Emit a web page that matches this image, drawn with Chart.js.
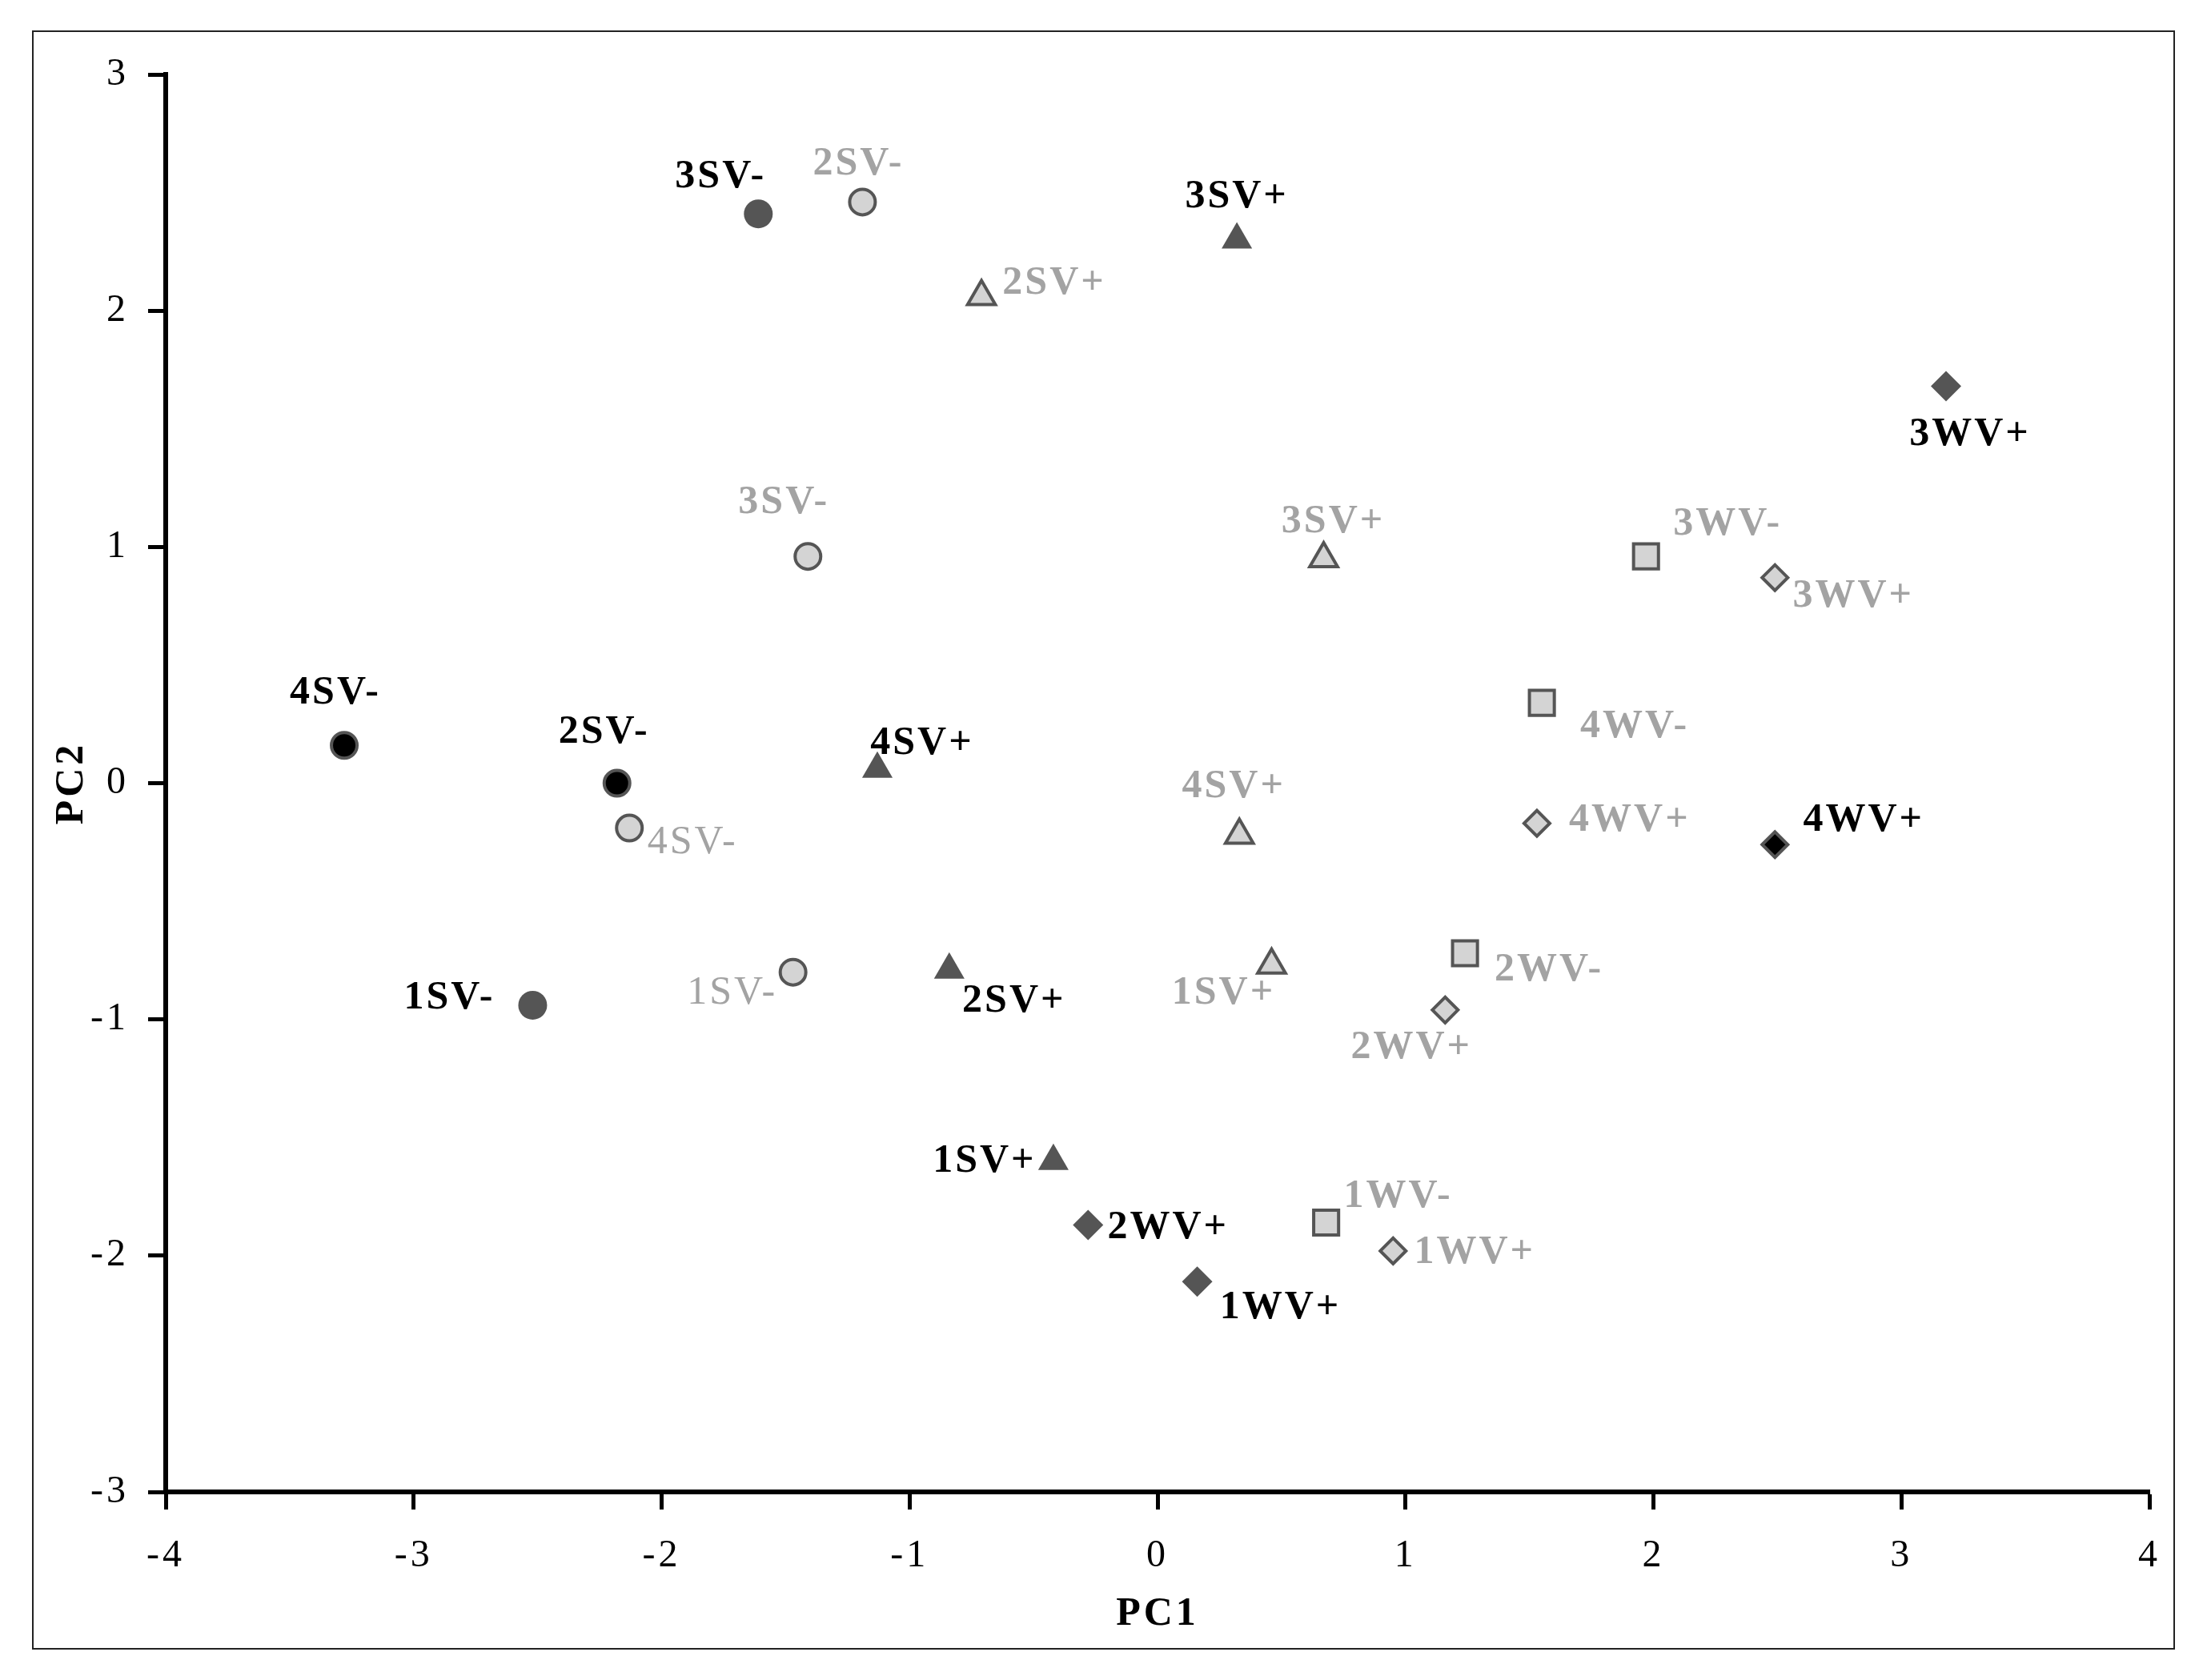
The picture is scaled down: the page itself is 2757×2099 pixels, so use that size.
<!DOCTYPE html>
<html>
<head>
<meta charset="utf-8">
<script src="https://cdn.jsdelivr.net/npm/chart.js@4.4.1/dist/chart.umd.min.js"></script>
<style>
  html, body { margin: 0; padding: 0; background: #fff; }
</style>
</head>
<body>
<canvas id="chart" width="2757" height="2099"></canvas>
<script>
// PCA scores, one group per marker style
const darkCircleLabels = ["3SV-", "1SV-"];
const darkCircleX = [-1.61, -2.52];
const darkCircleY = [2.41, -0.94];

const blackCircleLabels = ["4SV-", "2SV-"];
const blackCircleX = [-3.28, -2.18];
const blackCircleY = [0.16, 0.0];

const lightCircleLabels = ["2SV-", "3SV-", "4SV-", "1SV-"];
const lightCircleX = [-1.19, -1.41, -2.13, -1.47];
const lightCircleY = [2.46, 0.96, -0.19, -0.8];

const darkTriangleLabels = ["3SV+", "4SV+", "2SV+", "1SV+"];
const darkTriangleX = [0.32, -1.13, -0.84, -0.42];
const darkTriangleY = [2.3, 0.06, -0.79, -1.6];

const lightTriangleLabels = ["2SV+", "3SV+", "4SV+", "1SV+"];
const lightTriangleX = [-0.71, 0.67, 0.33, 0.46];
const lightTriangleY = [2.06, 0.95, -0.22, -0.77];

const squareLabels = ["3WV-", "4WV-", "2WV-", "1WV-"];
const squareX = [1.97, 1.55, 1.24, 0.68];
const squareY = [0.96, 0.34, -0.72, -1.86];

const lightDiamondLabels = ["3WV+", "4WV+", "2WV+", "1WV+"];
const lightDiamondX = [2.49, 1.53, 1.16, 0.95];
const lightDiamondY = [0.87, -0.17, -0.96, -1.98];

const darkDiamondLabels = ["3WV+", "2WV+", "1WV+"];
const darkDiamondX = [3.18, -0.28, 0.16];
const darkDiamondY = [1.68, -1.87, -2.11];

const blackDiamondLabels = ["4WV+"];
const blackDiamondX = [2.49];
const blackDiamondY = [-0.26];

const xTicks = [-4, -3, -2, -1, 0, 1, 2, 3, 4];
const yTicks = [-3, -2, -1, 0, 1, 2, 3];

// colours
const DARK = "#555555";
const LIGHT = "#d4d4d4";
const GREY_TEXT = "#a3a3a3";
const SERIF = "'Liberation Serif'";

function pts(xs, ys) {
  return xs.map((x, i) => ({ x: x, y: ys[i] }));
}

// label placement next to each marker (pixels)
const labelOffsets = [
  [[-47, -46], [-104, -9]],
  [[-11, -65], [-16, -63]],
  [[-5, -47], [-30, -67], [79, 18], [-76, 26]],
  [[0, -54], [56, -32], [81, 39], [-86, 0]],
  [[91, -16], [12, -46], [-7, -60], [-60, 35]],
  [[102, -40], [116, 30], [105, 21], [90, -32]],
  [[98, 23], [116, -4], [-42, 47], [102, 2]],
  [[30, 60], [100, 4], [104, 33]],
  [[111, -30]],
];

const datasets = [
  { names: darkCircleLabels, data: pts(darkCircleX, darkCircleY), pointStyle: "circle", pointRadius: 18,
    backgroundColor: DARK, borderColor: DARK, borderWidth: 0, textColor: "#000" },
  { names: blackCircleLabels, data: pts(blackCircleX, blackCircleY), pointStyle: "circle", pointRadius: 16,
    backgroundColor: "#000", borderColor: DARK, borderWidth: 4, textColor: "#000" },
  { names: lightCircleLabels, data: pts(lightCircleX, lightCircleY), pointStyle: "circle", pointRadius: 16,
    backgroundColor: LIGHT, borderColor: DARK, borderWidth: 4, textColor: GREY_TEXT, thin: [2, 3] },
  { names: darkTriangleLabels, data: pts(darkTriangleX, darkTriangleY), pointStyle: "triangle", pointRadius: 22,
    backgroundColor: DARK, borderColor: DARK, borderWidth: 0, textColor: "#000" },
  { names: lightTriangleLabels, data: pts(lightTriangleX, lightTriangleY), pointStyle: "triangle", pointRadius: 20,
    backgroundColor: LIGHT, borderColor: DARK, borderWidth: 4, textColor: GREY_TEXT },
  { names: squareLabels, data: pts(squareX, squareY), pointStyle: "rect", pointRadius: 22,
    backgroundColor: LIGHT, borderColor: DARK, borderWidth: 4, textColor: GREY_TEXT },
  { names: lightDiamondLabels, data: pts(lightDiamondX, lightDiamondY), pointStyle: "rectRot", pointRadius: 16,
    backgroundColor: LIGHT, borderColor: DARK, borderWidth: 4, textColor: GREY_TEXT },
  { names: darkDiamondLabels, data: pts(darkDiamondX, darkDiamondY), pointStyle: "rectRot", pointRadius: 19,
    backgroundColor: DARK, borderColor: DARK, borderWidth: 0, textColor: "#000" },
  { names: blackDiamondLabels, data: pts(blackDiamondX, blackDiamondY), pointStyle: "rectRot", pointRadius: 16,
    backgroundColor: "#000", borderColor: DARK, borderWidth: 4, textColor: "#000" },
];

const frame = {
  id: "frame",
  beforeDraw(chart) {
    const ctx = chart.ctx;
    ctx.save();
    ctx.fillStyle = "#fff";
    ctx.fillRect(0, 0, chart.width, chart.height);
    ctx.strokeStyle = "#222";
    ctx.lineWidth = 2;
    ctx.strokeRect(41, 39, 2675, 2021);
    ctx.restore();
    ctx.letterSpacing = "4px";
  },
  afterDraw(chart) {
    chart.ctx.letterSpacing = "0px";
  },
};

const pointLabels = {
  id: "pointLabels",
  afterDatasetsDraw(chart) {
    const ctx = chart.ctx;
    ctx.save();
    ctx.letterSpacing = "3px";
    ctx.textAlign = "center";
    ctx.textBaseline = "middle";
    chart.data.datasets.forEach((ds, i) => {
      chart.getDatasetMeta(i).data.forEach((el, j) => {
        const off = labelOffsets[i][j];
        const bold = !(ds.thin && ds.thin.includes(j));
        ctx.font = (bold ? "bold " : "") + "50px " + SERIF;
        ctx.fillStyle = ds.textColor;
        ctx.fillText(ds.names[j], el.x + off[0], el.y + off[1]);
      });
    });
    ctx.restore();
  },
};

function draw() {
  new Chart(document.getElementById("chart"), {
    type: "scatter",
    data: { datasets: datasets },
    options: {
      responsive: false,
      animation: false,
      events: [],
      layout: { padding: { left: 0, right: 72, top: 93, bottom: 0 } },
      plugins: { legend: { display: false }, tooltip: { enabled: false } },
      scales: {
        x: {
          type: "linear",
          min: -4,
          max: 4,
          afterBuildTicks(scale) { scale.ticks = xTicks.map(v => ({ value: v })); },
          afterFit(scale) { scale.height = 235; },
          border: { display: true, color: "#000", width: 6 },
          grid: { drawOnChartArea: false, drawTicks: true, tickLength: 22, tickWidth: 5, tickColor: "#000" },
          ticks: { color: "#000", padding: 30, font: { family: SERIF, size: 48 } },
          title: { display: true, text: "PC1", color: "#000", padding: { top: 0, bottom: 52 },
            font: { family: SERIF, size: 50, weight: "bold" } },
        },
        y: {
          type: "linear",
          min: -3,
          max: 3,
          afterBuildTicks(scale) { scale.ticks = yTicks.map(v => ({ value: v })); },
          afterFit(scale) { scale.width = 207; },
          border: { display: true, color: "#000", width: 6 },
          grid: { drawOnChartArea: false, drawTicks: true, tickLength: 22, tickWidth: 5, tickColor: "#000" },
          ticks: { color: "#000", padding: 24, font: { family: SERIF, size: 48 } },
          title: { display: true, text: "PC2", color: "#000", padding: { top: 60, bottom: 0 },
            font: { family: SERIF, size: 50, weight: "bold" } },
        },
      },
    },
    plugins: [frame, pointLabels],
  });
}

Promise.all([
  document.fonts.load("48px 'Liberation Serif'"),
  document.fonts.load("bold 50px 'Liberation Serif'"),
]).then(draw, draw);
</script>
</body>
</html>
